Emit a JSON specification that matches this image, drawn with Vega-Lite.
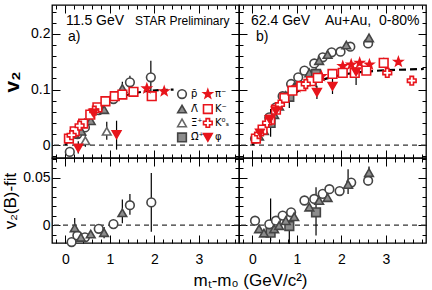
{
"$schema":"https://vega.github.io/schema/vega-lite/v6.json",
"padding":{"left":0,"top":3,"right":2,"bottom":2},
"background":"white",
"config":{"view":{"stroke":"black","strokeWidth":1.3},"font":"Liberation Sans","text":{"font":"Liberation Sans"}},
"datasets":{
"tl":[
{"s":"pbar","x":0.1,"y":-0.012},{"s":"pbar","x":0.27,"y":0.02},{"s":"pbar","x":0.44,"y":0.032},{"s":"pbar","x":0.75,"y":0.063},{"s":"pbar","x":1.08,"y":0.083},{"s":"pbar","x":1.45,"y":0.113,"lo":0.101,"hi":0.125},{"s":"pbar","x":1.92,"y":0.122,"lo":0.09,"hi":0.152},
{"s":"lbar","x":0.21,"y":0.02,"lo":0.013,"hi":0.028},{"s":"lbar","x":0.36,"y":0.025},{"s":"lbar","x":0.57,"y":0.044},{"s":"lbar","x":0.87,"y":0.064,"lo":0.057,"hi":0.07},{"s":"lbar","x":1.28,"y":0.102,"lo":0.09,"hi":0.114},
{"s":"xbar","x":0.45,"y":0.008,"lo":-0.003,"hi":0.02},{"s":"xbar","x":0.93,"y":0.025,"lo":0.01,"hi":0.042},
{"s":"k","x":0.08,"y":0.012},{"s":"k","x":0.21,"y":0.025},{"s":"k","x":0.4,"y":0.039},{"s":"k","x":0.56,"y":0.055},{"s":"k","x":0.72,"y":0.068},{"s":"k","x":0.9,"y":0.079},{"s":"k","x":1.11,"y":0.088},{"s":"k","x":1.28,"y":0.091},{"s":"k","x":1.53,"y":0.096},{"s":"k","x":1.94,"y":0.088,"lo":0.08,"hi":0.097},
{"s":"k0","x":0.14,"y":0.018},{"s":"k0","x":0.32,"y":0.035},{"s":"k0","x":0.65,"y":0.062},
{"s":"pi","x":1.83,"y":0.102},{"s":"pi","x":2.22,"y":0.097},
{"s":"phi","x":0.29,"y":-0.005,"lo":-0.015,"hi":0.007},{"s":"phi","x":0.63,"y":0.058},{"s":"phi","x":1.15,"y":0.019,"lo":-0.008,"hi":0.044}
],
"fit_tl":[{"x":0,"y":0},{"x":0.1,"y":0.013},{"x":0.2,"y":0.025},{"x":0.3,"y":0.035},{"x":0.4,"y":0.044},{"x":0.6,"y":0.058},{"x":0.8,"y":0.07},{"x":1.0,"y":0.079},{"x":1.2,"y":0.086},{"x":1.5,"y":0.093},{"x":1.8,"y":0.097},{"x":2.1,"y":0.099},{"x":2.43,"y":0.1}],
"tr":[
{"s":"pbar","x":0.06,"y":0.012},{"s":"pbar","x":0.38,"y":0.05},{"s":"pbar","x":0.53,"y":0.068},{"s":"pbar","x":0.68,"y":0.088},{"s":"pbar","x":0.87,"y":0.11},{"s":"pbar","x":1.03,"y":0.122},{"s":"pbar","x":1.17,"y":0.134},{"s":"pbar","x":1.39,"y":0.147},{"s":"pbar","x":1.58,"y":0.158},{"s":"pbar","x":1.78,"y":0.167},{"s":"pbar","x":1.98,"y":0.168},{"s":"pbar","x":2.2,"y":0.177},{"s":"pbar","x":2.6,"y":0.183,"lo":0.175,"hi":0.19},
{"s":"lbar","x":0.15,"y":0.016},{"s":"lbar","x":0.26,"y":0.026},{"s":"lbar","x":0.49,"y":0.055},{"s":"lbar","x":0.6,"y":0.07},{"s":"lbar","x":0.75,"y":0.089},{"s":"lbar","x":0.94,"y":0.105},{"s":"lbar","x":1.28,"y":0.13},{"s":"lbar","x":1.5,"y":0.152},{"s":"lbar","x":1.69,"y":0.163},{"s":"lbar","x":2.11,"y":0.18},{"s":"lbar","x":2.62,"y":0.193,"lo":0.185,"hi":0.2},
{"s":"obar","x":0.41,"y":0.04,"lo":0.015,"hi":0.065},{"s":"obar","x":0.83,"y":0.087,"lo":0.067,"hi":0.107},{"s":"obar","x":1.43,"y":0.128,"lo":0.104,"hi":0.152},
{"s":"pi","x":1.0,"y":0.104},{"s":"pi","x":1.55,"y":0.124},{"s":"pi","x":2.03,"y":0.142},{"s":"pi","x":2.22,"y":0.145},{"s":"pi","x":2.41,"y":0.148},{"s":"pi","x":2.63,"y":0.145},{"s":"pi","x":3.28,"y":0.15},
{"s":"k","x":0.08,"y":0.012},{"s":"k","x":0.23,"y":0.028},{"s":"k","x":0.4,"y":0.046},{"s":"k","x":0.53,"y":0.064},{"s":"k","x":0.72,"y":0.085},{"s":"k","x":0.9,"y":0.098},{"s":"k","x":1.1,"y":0.106},{"s":"k","x":1.32,"y":0.115},{"s":"k","x":1.47,"y":0.121},{"s":"k","x":1.8,"y":0.128},{"s":"k","x":2.03,"y":0.13},{"s":"k","x":2.3,"y":0.13},{"s":"k","x":2.56,"y":0.134},{"s":"k","x":2.95,"y":0.148,"lo":0.14,"hi":0.157},
{"s":"k0","x":0.15,"y":0.02},{"s":"k0","x":0.33,"y":0.04},{"s":"k0","x":0.62,"y":0.073},{"s":"k0","x":1.2,"y":0.11},{"s":"k0","x":3.03,"y":0.13},{"s":"k0","x":3.58,"y":0.116,"lo":0.108,"hi":0.124},
{"s":"phi","x":0.17,"y":0.022},{"s":"phi","x":0.39,"y":0.046},{"s":"phi","x":0.53,"y":0.062},{"s":"phi","x":1.45,"y":0.095,"lo":0.083,"hi":0.107},{"s":"phi","x":1.8,"y":0.106,"lo":0.092,"hi":0.12},{"s":"phi","x":2.33,"y":0.132,"lo":0.108,"hi":0.14}
],
"fit_tr":[{"x":0,"y":0},{"x":0.1,"y":0.014},{"x":0.2,"y":0.027},{"x":0.3,"y":0.038},{"x":0.4,"y":0.048},{"x":0.6,"y":0.068},{"x":0.8,"y":0.084},{"x":1.0,"y":0.096},{"x":1.2,"y":0.106},{"x":1.5,"y":0.116},{"x":1.8,"y":0.123},{"x":2.1,"y":0.128},{"x":2.5,"y":0.132},{"x":3.0,"y":0.135},{"x":3.5,"y":0.136},{"x":3.85,"y":0.137}],
"bl":[
{"s":"pbar","x":0.14,"y":-0.018},{"s":"pbar","x":0.27,"y":-0.011},{"s":"pbar","x":0.44,"y":-0.013},{"s":"pbar","x":0.75,"y":-0.004},{"s":"pbar","x":1.08,"y":0.001,"lo":-0.003,"hi":0.006},{"s":"pbar","x":1.45,"y":0.021,"lo":0.011,"hi":0.033},{"s":"pbar","x":1.93,"y":0.024,"lo":-0.007,"hi":0.055},
{"s":"lbar","x":0.21,"y":-0.003,"lo":-0.01,"hi":0.0075},{"s":"lbar","x":0.35,"y":-0.013},{"s":"lbar","x":0.57,"y":-0.0095},{"s":"lbar","x":0.87,"y":-0.008,"lo":-0.014,"hi":-0.002},{"s":"lbar","x":1.28,"y":0.013,"lo":0.002,"hi":0.027}
],
"br":[
{"s":"obar","x":0.41,"y":-0.008,"lo":-0.017,"hi":0.028},{"s":"obar","x":0.83,"y":-0.001,"lo":-0.02,"hi":0.005},{"s":"obar","x":1.43,"y":0.0135,"lo":-0.011,"hi":0.04},
{"s":"pbar","x":0.06,"y":0.0046},{"s":"pbar","x":0.38,"y":0.0008},{"s":"pbar","x":0.53,"y":0.0046},{"s":"pbar","x":0.68,"y":0.01},{"s":"pbar","x":0.87,"y":0.0135},{"s":"pbar","x":1.17,"y":0.026},{"s":"pbar","x":1.39,"y":0.0276},{"s":"pbar","x":1.58,"y":0.033},{"s":"pbar","x":1.73,"y":0.038},{"s":"pbar","x":1.96,"y":0.036},{"s":"pbar","x":2.22,"y":0.045},{"s":"pbar","x":2.6,"y":0.047,"lo":0.042,"hi":0.052},
{"s":"lbar","x":0.15,"y":-0.004},{"s":"lbar","x":0.26,"y":-0.0085},{"s":"lbar","x":0.49,"y":-0.004},{"s":"lbar","x":0.6,"y":-0.0006},{"s":"lbar","x":0.75,"y":0.0046},{"s":"lbar","x":0.94,"y":0.0088},{"s":"lbar","x":1.28,"y":0.019},{"s":"lbar","x":1.5,"y":0.026},{"s":"lbar","x":1.69,"y":0.029},{"s":"lbar","x":2.15,"y":0.043,"lo":0.033,"hi":0.059},{"s":"lbar","x":2.62,"y":0.0555,"lo":0.05,"hi":0.062}
],
"lg":[{"s":"pbar","x":2.62,"y":0.092},{"s":"lbar","x":2.62,"y":0.065},{"s":"xbar","x":2.62,"y":0.04},{"s":"obar","x":2.62,"y":0.014},{"s":"pi","x":3.2,"y":0.092},{"s":"k","x":3.2,"y":0.065},{"s":"k0","x":3.2,"y":0.04},{"s":"phi","x":3.2,"y":0.014}],
"lgt":[{"t":"p̄","x":2.82,"y":0.092},{"t":"Λ̄","x":2.82,"y":0.065},{"t":"Ξ̄⁺","x":2.82,"y":0.04},{"t":"Ω̄⁺","x":2.82,"y":0.014},{"t":"π⁻","x":3.36,"y":0.092},{"t":"K⁻","x":3.36,"y":0.065},{"t":"K⁰ₛ","x":3.36,"y":0.04},{"t":"φ","x":3.36,"y":0.014}],
"txt_tl":[{"t":"11.5 GeV","x":0.015,"y":0.216,"f":"big"},{"t":"STAR Preliminary","x":1.565,"y":0.216,"f":"small"},{"t":"a)","x":0.06,"y":0.187,"f":"big"}],
"txt_tr":[{"t":"62.4 GeV","x":-0.03,"y":0.216},{"t":"Au+Au,\u00a0\u00a00-80%","x":1.63,"y":0.216},{"t":"b)","x":0.08,"y":0.187}]
},
"spacing":0,
"bounds":"flush",
"columns":2,
"concat":[
{"width":187,"height":153,
"resolve":{"axis":{"x":"independent","y":"independent"}},
"layer":[
{"data":{"values":[{"y":0}]},"mark":{"type":"rule","strokeDash":[5,4],"color":"#333","strokeWidth":1.2},"encoding":{"y":{"field":"y","type":"quantitative","scale":{"domain":[-0.023,0.252],"nice":false,"zero":false},"axis":null}}},
{"data":{"name":"fit_tl"},"mark":{"type":"line","color":"black","strokeWidth":2.2,"strokeDash":[6,3]},"encoding":{"x":{"field":"x","type":"quantitative","scale":{"domain":[-0.3,3.9],"nice":false,"zero":false},"axis":null},"y":{"field":"y","type":"quantitative","scale":{"domain":[-0.023,0.252],"nice":false,"zero":false},"axis":null}}},
{"data":{"name":"tl"},"transform":[{"filter":"isValid(datum.lo)"}],"mark":{"type":"rule","color":"black","strokeWidth":1.2},"encoding":{"x":{"field":"x","type":"quantitative","axis":null},"y":{"field":"lo","type":"quantitative","axis":null},"y2":{"field":"hi"}}},
{"data":{"name":"tl"},"mark":{"type":"point","size":75,"strokeWidth":1.6,"opacity":1},"encoding":{
"x":{"field":"x","type":"quantitative","scale":{"domain":[-0.3,3.9],"nice":false,"zero":false},"axis":{"orient":"bottom","values":[-0.2,0,0.2,0.4,0.6,0.8,1,1.2,1.4,1.6,1.8,2,2.2,2.4,2.6,2.8,3,3.2,3.4,3.6,3.8],"labels":false,"domain":false,"grid":false,"title":null,"tickColor":"black","tickSize":{"condition":{"test":"datum.value % 1 == 0","value":-8},"value":-4}}},
"y":{"field":"y","type":"quantitative","scale":{"domain":[-0.023,0.252],"nice":false,"zero":false},"axis":{"orient":"left","values":[-0.02,0,0.02,0.04,0.06,0.08,0.1,0.12,0.14,0.16,0.18,0.2,0.22,0.24],"labelExpr":"abs(datum.value*10-round(datum.value*10))<1e-6 ? format(datum.value,'~g') : ''","labelFontSize":14,"labelColor":"black","labelPadding":10,"labelFlush":false,"labelOverlap":false,"domain":false,"grid":false,"tickColor":"black","tickSize":{"condition":{"test":"abs(datum.value*10-round(datum.value*10))<1e-6","value":-8},"value":-4},"title":"v₂","titleFontSize":21,"titleFontWeight":"bold","titleColor":"black","titleX":-34,"titleBaseline":"alphabetic"}},
"shape":{"field":"s","type":"nominal","legend":null,"scale":{"domain":["pbar","lbar","xbar","obar","pi","k","k0","phi"],"range":["circle","triangle-up","triangle-up","square","M0,-1L0.235,-0.324L0.951,-0.309L0.38,0.124L0.588,0.809L0,0.4L-0.588,0.809L-0.38,0.124L-0.951,-0.309L-0.235,-0.324Z","square","cross","triangle-down"]}},
"fill":{"field":"s","type":"nominal","legend":null,"scale":{"domain":["pbar","lbar","xbar","obar","pi","k","k0","phi"],"range":["white","#8c8c8c","white","#8c8c8c","#e8141b","white","white","#e8141b"]}},
"stroke":{"field":"s","type":"nominal","legend":null,"scale":{"domain":["pbar","lbar","xbar","obar","pi","k","k0","phi"],"range":["#444","#444","#666","#444","#e8141b","#e8141b","#e8141b","#e8141b"]}}}},
{"data":{"name":"lg"},"mark":{"type":"point","size":75,"strokeWidth":1.6,"opacity":1},"encoding":{"x":{"field":"x","type":"quantitative","axis":null},"y":{"field":"y","type":"quantitative","axis":null},"shape":{"field":"s","type":"nominal","legend":null},"fill":{"field":"s","type":"nominal","legend":null},"stroke":{"field":"s","type":"nominal","legend":null}}},
{"data":{"name":"lgt"},"mark":{"type":"text","align":"left","baseline":"middle","fontSize":10,"font":"DejaVu Sans","color":"black"},"encoding":{"x":{"field":"x","type":"quantitative","axis":null},"y":{"field":"y","type":"quantitative","axis":null},"text":{"field":"t"}}},
{"data":{"name":"txt_tl"},"mark":{"type":"text","align":"left","baseline":"alphabetic","color":"black"},"encoding":{"x":{"field":"x","type":"quantitative","axis":null},"y":{"field":"y","type":"quantitative","axis":null},"text":{"field":"t"},"size":{"field":"f","type":"nominal","legend":null,"scale":{"domain":["big","small"],"range":[14,12]}}}},
{"data":{"values":[{"x":0,"y":0}]},"mark":{"type":"point","opacity":0},"encoding":{
"x":{"field":"x","type":"quantitative","axis":{"orient":"top","values":[-0.2,0,0.2,0.4,0.6,0.8,1,1.2,1.4,1.6,1.8,2,2.2,2.4,2.6,2.8,3,3.2,3.4,3.6,3.8],"labels":false,"domain":false,"grid":false,"title":null,"tickColor":"black","tickSize":{"condition":{"test":"datum.value % 1 == 0","value":-8},"value":-4}}},
"y":{"field":"y","type":"quantitative","axis":{"orient":"right","values":[-0.02,0,0.02,0.04,0.06,0.08,0.1,0.12,0.14,0.16,0.18,0.2,0.22,0.24],"labels":false,"domain":false,"grid":false,"title":null,"tickColor":"black","tickSize":{"condition":{"test":"abs(datum.value*10-round(datum.value*10))<1e-6","value":-8},"value":-4}}}}}
]},
{"width":187,"height":153,
"resolve":{"axis":{"x":"independent","y":"independent"}},
"layer":[
{"data":{"values":[{"y":0}]},"mark":{"type":"rule","strokeDash":[5,4],"color":"#333","strokeWidth":1.2},"encoding":{"y":{"field":"y","type":"quantitative","scale":{"domain":[-0.023,0.252],"nice":false,"zero":false},"axis":null}}},
{"data":{"name":"fit_tr"},"mark":{"type":"line","color":"black","strokeWidth":2.2,"strokeDash":[7,4]},"encoding":{"x":{"field":"x","type":"quantitative","scale":{"domain":[-0.3,3.9],"nice":false,"zero":false},"axis":null},"y":{"field":"y","type":"quantitative","scale":{"domain":[-0.023,0.252],"nice":false,"zero":false},"axis":null}}},
{"data":{"name":"tr"},"transform":[{"filter":"isValid(datum.lo)"}],"mark":{"type":"rule","color":"black","strokeWidth":1.2},"encoding":{"x":{"field":"x","type":"quantitative","axis":null},"y":{"field":"lo","type":"quantitative","axis":null},"y2":{"field":"hi"}}},
{"data":{"name":"tr"},"mark":{"type":"point","size":75,"strokeWidth":1.6,"opacity":1},"encoding":{
"x":{"field":"x","type":"quantitative","scale":{"domain":[-0.3,3.9],"nice":false,"zero":false},"axis":{"orient":"bottom","values":[-0.2,0,0.2,0.4,0.6,0.8,1,1.2,1.4,1.6,1.8,2,2.2,2.4,2.6,2.8,3,3.2,3.4,3.6,3.8],"labels":false,"domain":false,"grid":false,"title":null,"tickColor":"black","tickSize":{"condition":{"test":"datum.value % 1 == 0","value":-8},"value":-4}}},
"y":{"field":"y","type":"quantitative","scale":{"domain":[-0.023,0.252],"nice":false,"zero":false},"axis":{"orient":"left","values":[-0.02,0,0.02,0.04,0.06,0.08,0.1,0.12,0.14,0.16,0.18,0.2,0.22,0.24],"labels":false,"domain":false,"grid":false,"title":null,"tickColor":"black","tickSize":{"condition":{"test":"abs(datum.value*10-round(datum.value*10))<1e-6","value":-8},"value":-4}}},
"shape":{"field":"s","type":"nominal","legend":null,"scale":{"domain":["pbar","lbar","xbar","obar","pi","k","k0","phi"],"range":["circle","triangle-up","triangle-up","square","M0,-1L0.235,-0.324L0.951,-0.309L0.38,0.124L0.588,0.809L0,0.4L-0.588,0.809L-0.38,0.124L-0.951,-0.309L-0.235,-0.324Z","square","cross","triangle-down"]}},
"fill":{"field":"s","type":"nominal","legend":null,"scale":{"domain":["pbar","lbar","xbar","obar","pi","k","k0","phi"],"range":["white","#8c8c8c","white","#8c8c8c","#e8141b","white","white","#e8141b"]}},
"stroke":{"field":"s","type":"nominal","legend":null,"scale":{"domain":["pbar","lbar","xbar","obar","pi","k","k0","phi"],"range":["#444","#444","#666","#444","#e8141b","#e8141b","#e8141b","#e8141b"]}}}},
{"data":{"name":"txt_tr"},"mark":{"type":"text","align":"left","baseline":"alphabetic","color":"black","fontSize":14},"encoding":{"x":{"field":"x","type":"quantitative","axis":null},"y":{"field":"y","type":"quantitative","axis":null},"text":{"field":"t"}}},
{"data":{"values":[{"x":0,"y":0}]},"mark":{"type":"point","opacity":0},"encoding":{
"x":{"field":"x","type":"quantitative","axis":{"orient":"top","values":[-0.2,0,0.2,0.4,0.6,0.8,1,1.2,1.4,1.6,1.8,2,2.2,2.4,2.6,2.8,3,3.2,3.4,3.6,3.8],"labels":false,"domain":false,"grid":false,"title":null,"tickColor":"black","tickSize":{"condition":{"test":"datum.value % 1 == 0","value":-8},"value":-4}}},
"y":{"field":"y","type":"quantitative","axis":{"orient":"right","values":[-0.02,0,0.02,0.04,0.06,0.08,0.1,0.12,0.14,0.16,0.18,0.2,0.22,0.24],"labels":false,"domain":false,"grid":false,"title":null,"tickColor":"black","tickSize":{"condition":{"test":"abs(datum.value*10-round(datum.value*10))<1e-6","value":-8},"value":-4}}}}}
]},
{"width":187,"height":85,
"resolve":{"axis":{"x":"independent","y":"independent"}},
"layer":[
{"data":{"values":[{"y":0}]},"mark":{"type":"rule","strokeDash":[5,4],"color":"#333","strokeWidth":1.2},"encoding":{"y":{"field":"y","type":"quantitative","scale":{"domain":[-0.019,0.071],"nice":false,"zero":false},"axis":null}}},
{"data":{"name":"bl"},"transform":[{"filter":"isValid(datum.lo)"}],"mark":{"type":"rule","color":"black","strokeWidth":1.2},"encoding":{"x":{"field":"x","type":"quantitative","scale":{"domain":[-0.3,3.9],"nice":false,"zero":false},"axis":null},"y":{"field":"lo","type":"quantitative","scale":{"domain":[-0.019,0.071],"nice":false,"zero":false},"axis":null},"y2":{"field":"hi"}}},
{"data":{"name":"bl"},"mark":{"type":"point","size":75,"strokeWidth":1.6,"opacity":1},"encoding":{
"x":{"field":"x","type":"quantitative","scale":{"domain":[-0.3,3.9],"nice":false,"zero":false},"axis":{"orient":"bottom","values":[-0.2,0,0.2,0.4,0.6,0.8,1,1.2,1.4,1.6,1.8,2,2.2,2.4,2.6,2.8,3,3.2,3.4,3.6,3.8],"labelExpr":"datum.value % 1 == 0 ? format(datum.value,'d') : ''","labelFontSize":14,"labelColor":"black","labelPadding":17,"labelFlush":false,"labelOverlap":false,"domain":false,"grid":false,"tickColor":"black","tickSize":{"condition":{"test":"datum.value % 1 == 0","value":-8},"value":-4},"title":"mₜ-m₀ (GeV/c²)","titleFontSize":17,"titleFontWeight":"normal","titleColor":"black","titleX":198,"titleY":42,"titleBaseline":"alphabetic"}},
"y":{"field":"y","type":"quantitative","scale":{"domain":[-0.019,0.071],"nice":false,"zero":false},"axis":{"orient":"left","values":[-0.01,0,0.01,0.02,0.03,0.04,0.05,0.06,0.07],"labelExpr":"abs(datum.value*20-round(datum.value*20))<1e-6 ? format(datum.value,'~g') : ''","labelFontSize":14,"labelColor":"black","labelPadding":10,"labelFlush":false,"labelOverlap":false,"domain":false,"grid":false,"tickColor":"black","tickSize":{"condition":{"test":"abs(datum.value*20-round(datum.value*20))<1e-6","value":-8},"value":-4},"title":"v₂(B)-fit","titleFontSize":17,"titleFontWeight":"normal","titleColor":"black","titleX":-37,"titleBaseline":"alphabetic"}},
"shape":{"field":"s","type":"nominal","legend":null,"scale":{"domain":["pbar","lbar","xbar","obar","pi","k","k0","phi"],"range":["circle","triangle-up","triangle-up","square","M0,-1L0.235,-0.324L0.951,-0.309L0.38,0.124L0.588,0.809L0,0.4L-0.588,0.809L-0.38,0.124L-0.951,-0.309L-0.235,-0.324Z","square","cross","triangle-down"]}},
"fill":{"field":"s","type":"nominal","legend":null,"scale":{"domain":["pbar","lbar","xbar","obar","pi","k","k0","phi"],"range":["white","#8c8c8c","white","#8c8c8c","#e8141b","white","white","#e8141b"]}},
"stroke":{"field":"s","type":"nominal","legend":null,"scale":{"domain":["pbar","lbar","xbar","obar","pi","k","k0","phi"],"range":["#444","#444","#666","#444","#e8141b","#e8141b","#e8141b","#e8141b"]}}}},
{"data":{"values":[{"x":0,"y":0}]},"mark":{"type":"point","opacity":0},"encoding":{
"x":{"field":"x","type":"quantitative","axis":{"orient":"top","values":[-0.2,0,0.2,0.4,0.6,0.8,1,1.2,1.4,1.6,1.8,2,2.2,2.4,2.6,2.8,3,3.2,3.4,3.6,3.8],"labels":false,"domain":false,"grid":false,"title":null,"tickColor":"black","tickSize":{"condition":{"test":"datum.value % 1 == 0","value":-8},"value":-4}}},
"y":{"field":"y","type":"quantitative","axis":{"orient":"right","values":[-0.01,0,0.01,0.02,0.03,0.04,0.05,0.06,0.07],"labels":false,"domain":false,"grid":false,"title":null,"tickColor":"black","tickSize":{"condition":{"test":"abs(datum.value*20-round(datum.value*20))<1e-6","value":-8},"value":-4}}}}}
]},
{"width":187,"height":85,
"resolve":{"axis":{"x":"independent","y":"independent"}},
"layer":[
{"data":{"values":[{"y":0}]},"mark":{"type":"rule","strokeDash":[5,4],"color":"#333","strokeWidth":1.2},"encoding":{"y":{"field":"y","type":"quantitative","scale":{"domain":[-0.019,0.071],"nice":false,"zero":false},"axis":null}}},
{"data":{"name":"br"},"transform":[{"filter":"isValid(datum.lo)"}],"mark":{"type":"rule","color":"black","strokeWidth":1.2},"encoding":{"x":{"field":"x","type":"quantitative","scale":{"domain":[-0.3,3.9],"nice":false,"zero":false},"axis":null},"y":{"field":"lo","type":"quantitative","scale":{"domain":[-0.019,0.071],"nice":false,"zero":false},"axis":null},"y2":{"field":"hi"}}},
{"data":{"name":"br"},"mark":{"type":"point","size":75,"strokeWidth":1.6,"opacity":1},"encoding":{
"x":{"field":"x","type":"quantitative","scale":{"domain":[-0.3,3.9],"nice":false,"zero":false},"axis":{"orient":"bottom","values":[-0.2,0,0.2,0.4,0.6,0.8,1,1.2,1.4,1.6,1.8,2,2.2,2.4,2.6,2.8,3,3.2,3.4,3.6,3.8],"labelExpr":"datum.value % 1 == 0 ? format(datum.value,'d') : ''","labelFontSize":14,"labelColor":"black","labelPadding":17,"labelFlush":false,"labelOverlap":false,"domain":false,"grid":false,"tickColor":"black","tickSize":{"condition":{"test":"datum.value % 1 == 0","value":-8},"value":-4},"title":null}},
"y":{"field":"y","type":"quantitative","scale":{"domain":[-0.019,0.071],"nice":false,"zero":false},"axis":{"orient":"left","values":[-0.01,0,0.01,0.02,0.03,0.04,0.05,0.06,0.07],"labels":false,"domain":false,"grid":false,"title":null,"tickColor":"black","tickSize":{"condition":{"test":"abs(datum.value*20-round(datum.value*20))<1e-6","value":-8},"value":-4}}},
"shape":{"field":"s","type":"nominal","legend":null,"scale":{"domain":["pbar","lbar","xbar","obar","pi","k","k0","phi"],"range":["circle","triangle-up","triangle-up","square","M0,-1L0.235,-0.324L0.951,-0.309L0.38,0.124L0.588,0.809L0,0.4L-0.588,0.809L-0.38,0.124L-0.951,-0.309L-0.235,-0.324Z","square","cross","triangle-down"]}},
"fill":{"field":"s","type":"nominal","legend":null,"scale":{"domain":["pbar","lbar","xbar","obar","pi","k","k0","phi"],"range":["white","#8c8c8c","white","#8c8c8c","#e8141b","white","white","#e8141b"]}},
"stroke":{"field":"s","type":"nominal","legend":null,"scale":{"domain":["pbar","lbar","xbar","obar","pi","k","k0","phi"],"range":["#444","#444","#666","#444","#e8141b","#e8141b","#e8141b","#e8141b"]}}}},
{"data":{"values":[{"x":0,"y":0}]},"mark":{"type":"point","opacity":0},"encoding":{
"x":{"field":"x","type":"quantitative","axis":{"orient":"top","values":[-0.2,0,0.2,0.4,0.6,0.8,1,1.2,1.4,1.6,1.8,2,2.2,2.4,2.6,2.8,3,3.2,3.4,3.6,3.8],"labels":false,"domain":false,"grid":false,"title":null,"tickColor":"black","tickSize":{"condition":{"test":"datum.value % 1 == 0","value":-8},"value":-4}}},
"y":{"field":"y","type":"quantitative","axis":{"orient":"right","values":[-0.01,0,0.01,0.02,0.03,0.04,0.05,0.06,0.07],"labels":false,"domain":false,"grid":false,"title":null,"tickColor":"black","tickSize":{"condition":{"test":"abs(datum.value*20-round(datum.value*20))<1e-6","value":-8},"value":-4}}}}}
]}
]
}
